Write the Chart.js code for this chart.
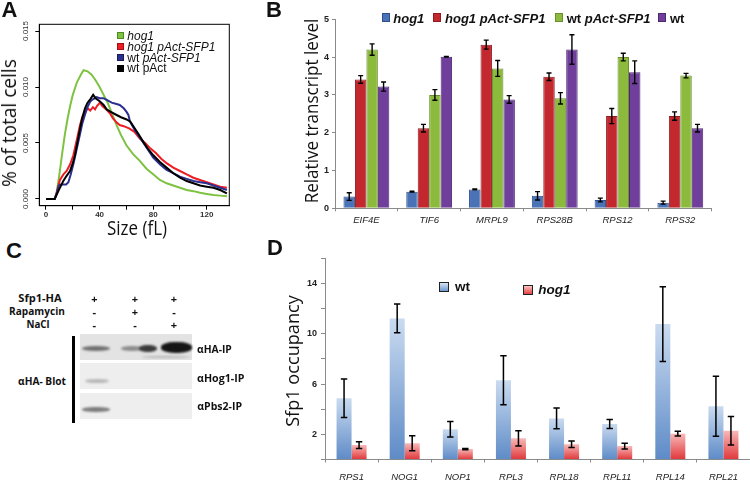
<!DOCTYPE html>
<html><head><meta charset="utf-8">
<script src="https://cdn.jsdelivr.net/npm/chart.js@4.4.0/dist/chart.umd.min.js"></script>
<style>
html,body{margin:0;padding:0;background:#fff;}
#root{position:relative;width:750px;height:480px;overflow:hidden;font-family:"Liberation Sans",Arial,sans-serif;color:#111;}
.t{position:absolute;white-space:nowrap;line-height:1;}
canvas{position:absolute;}
.sq{position:absolute;box-sizing:border-box;}
.blot{position:absolute;overflow:hidden;}
.band{position:absolute;border-radius:45%;}
</style></head>
<body><div id="root">
<canvas id="cA" width="245" height="235" style="left:0;top:0"></canvas>
<canvas id="cB" width="505" height="232" style="left:245px;top:0"></canvas>
<canvas id="cD" width="500" height="248" style="left:250px;top:232px"></canvas>
</div>
<script>
// ---------- Panel A data (cell size distributions) ----------
const aHog1X = [0,6.5,8,10,12,14,16,18,20,23,26,28,31,34,37,40,43,46,50,53,56,60,65,70,75,80,85,90,95,100,105,110,115,120,125,130,135];
const aHog1Y = [0,0,0.0006,0.0022,0.0040,0.0057,0.0071,0.0083,0.0093,0.0104,0.0111,0.0115,0.0114,0.0111,0.0106,0.0100,0.0093,0.0086,0.0074,0.0065,0.0057,0.0048,0.0040,0.0034,0.0027,0.0022,0.0017,0.0014,0.0012,0.0010,0.0008,0.0007,0.00055,0.00045,0.00035,0.0003,0.00025];
const aHogSfpX = [0,6.5,8,10.4,13,15.4,18,20.4,23,25.4,27,29,31,33,35,36.6,38,40.3,42,45,48,50,53,55,58,62,66,70,74,78,82,86,90,95,100,105,110,115,120,125,130,135];
const aHogSfpY = [0,0,0.0006,0.0017,0.0022,0.0025,0.0031,0.0039,0.0053,0.0066,0.0073,0.0078,0.0081,0.0079,0.0082,0.0080,0.0083,0.0086,0.0083,0.0080,0.0076,0.0072,0.0068,0.0066,0.0065,0.0063,0.0060,0.0054,0.0050,0.0045,0.0041,0.0036,0.0032,0.0028,0.0025,0.0022,0.0019,0.0017,0.0015,0.0013,0.0011,0.0010];
const aWtSfpX = [0,6.5,8,9.5,11,13,15,16.7,18.5,20.4,23,25.4,27,29,31,33,35,37.8,40,42.8,46,49,52,55,58,60,61.5,62.7,66,70,75,80,85,90,95,100,105,110,115,120,125,130,135];
const aWtSfpY = [0,0,0.0005,0.0012,0.0013,0.0013,0.0013,0.0015,0.0022,0.0031,0.0045,0.0058,0.0067,0.0075,0.0082,0.0087,0.0089,0.0091,0.0090,0.0090,0.0088,0.0086,0.0085,0.0084,0.0081,0.0078,0.0075,0.0069,0.0062,0.0055,0.0046,0.0037,0.0031,0.0026,0.0023,0.0020,0.0018,0.0016,0.0015,0.0014,0.0012,0.0010,0.0008];
const aWtX = [0,6.5,8,10,12.9,15,17.9,20,21.6,23.5,25.4,27,29.1,31,33,35.2,37,40.3,43,45.3,48,52.7,56,60.2,63,65.2,69,72.6,76,80.1,85,90,95,100,105,110,115,120,125,130,135];
const aWtY = [0,0,0.0004,0.0009,0.0016,0.0020,0.0025,0.0032,0.0039,0.0051,0.0063,0.0072,0.0081,0.0086,0.0089,0.0093,0.0090,0.0087,0.0084,0.0080,0.0078,0.0075,0.0073,0.0071,0.0069,0.0065,0.0058,0.0051,0.0045,0.0039,0.0033,0.0028,0.0023,0.0019,0.0016,0.0014,0.0012,0.0011,0.0010,0.0008,0.0005];
const aXTicks = [0,20,40,60,80,100,120];
const aXTickLabels = ['0','','40','','80','','120'];
const aYTicks = [0,0.005,0.010,0.015];
const aYTickLabels = ['0.000','0.005','0.010','0.015'];

// ---------- Panel B data (relative transcript level) ----------
const bGenes = ['EIF4E','TIF6','MRPL9','RPS28B','RPS12','RPS32'];
const bHog1 = [0.31,0.44,0.50,0.33,0.22,0.15];
const bHog1Err = [0.10,0.01,0.01,0.11,0.05,0.04];
const bHog1Sfp = [3.41,2.12,4.33,3.48,2.44,2.44];
const bHog1SfpErr = [0.10,0.10,0.12,0.10,0.20,0.11];
const bWtSfp = [4.20,3.00,3.70,2.91,4.00,3.51];
const bWtSfpErr = [0.15,0.14,0.21,0.15,0.10,0.06];
const bWt = [3.22,4.01,2.88,4.20,3.60,2.12];
const bWtErr = [0.12,0.01,0.10,0.39,0.30,0.10];

// ---------- Panel D data (Sfp1 occupancy) ----------
const dGenes = ['RPS1','NOG1','NOP1','RPL3','RPL18','RPL11','RPL14','RPL21'];
const dWt = [4.87,11.22,2.40,6.30,3.27,2.82,10.77,4.23];
const dWtErr = [1.53,1.14,0.62,1.95,0.82,0.36,2.97,2.39];
const dHog1 = [1.15,1.29,0.83,1.68,1.21,1.07,2.05,2.29];
const dHog1Err = [0.27,0.60,0.05,0.60,0.26,0.23,0.19,1.13];
const dYLabelled = [2,6,10,14];

Chart.defaults.font.family = '"Liberation Sans", Arial, sans-serif';
Chart.defaults.color = '#222';

const pts = (xs, ys) => xs.map((x, i) => ({x, y: ys[i]}));

const boxPlugin = {
  id: 'boxA',
  afterDraw(chart, args, opts) {
    if (!opts.on) return;
    const {ctx, chartArea: a} = chart;
    const ys = chart.scales.y;
    ctx.save();
    ctx.strokeStyle = '#000'; ctx.lineWidth = 1;
    ctx.strokeRect(a.left, a.top, a.right - a.left, a.bottom - a.top);
    ctx.fillStyle = '#333';
    ctx.font = '8px "Liberation Sans", Arial, sans-serif';
    ctx.textAlign = 'center'; ctx.textBaseline = 'middle';
    aYTicks.forEach((v, i) => {
      ctx.save();
      ctx.translate(opts.labelX, ys.getPixelForValue(v));
      ctx.rotate(-Math.PI / 2);
      ctx.fillText(aYTickLabels[i], 0, 0);
      ctx.restore();
    });
    ctx.restore();
  }
};

const errPlugin = {
  id: 'errbars',
  afterDatasetsDraw(chart, args, opts) {
    if (!opts.on) return;
    const ctx = chart.ctx, ys = chart.scales.y;
    chart.data.datasets.forEach((ds, i) => {
      const errs = opts.errs[i];
      if (!errs) return;
      const meta = chart.getDatasetMeta(i);
      meta.data.forEach((bar, j) => {
        const v = ds.data[j], e = errs[j];
        const x = bar.x;
        const y1 = ys.getPixelForValue(v + e), y2 = ys.getPixelForValue(v - e);
        ctx.save();
        ctx.strokeStyle = '#000'; ctx.lineWidth = opts.width;
        ctx.beginPath();
        ctx.moveTo(x, y1); ctx.lineTo(x, y2);
        ctx.moveTo(x - opts.cap, y1); ctx.lineTo(x + opts.cap, y1);
        ctx.moveTo(x - opts.cap, y2); ctx.lineTo(x + opts.cap, y2);
        ctx.stroke();
        ctx.restore();
      });
    });
  }
};

// ---------- Chart A ----------
new Chart(document.getElementById('cA'), {
  type: 'line',
  data: {datasets: [
    {label: 'hog1', data: pts(aHog1X, aHog1Y), borderColor: '#7ec242', order: 3},
    {label: 'hog1 pAct-SFP1', data: pts(aHogSfpX, aHogSfpY), borderColor: '#ee1d23', order: 2},
    {label: 'wt pAct-SFP1', data: pts(aWtSfpX, aWtSfpY), borderColor: '#2b2f8f', order: 1},
    {label: 'wt pAct', data: pts(aWtX, aWtY), borderColor: '#000000', order: 0}
  ]},
  options: {
    responsive: false, animation: false, events: [],
    datasets: {line: {borderWidth: 2, pointRadius: 0, tension: 0, fill: false}},
    layout: {padding: {left: 0, top: 24.3, right: 15.7, bottom: 0}},
    plugins: {legend: {display: false}, tooltip: {enabled: false}, boxA: {on: true, labelX: 26}},
    scales: {
      x: {type: 'linear', min: -5, max: 136.8,
        afterBuildTicks: s => { s.ticks = aXTicks.map(v => ({value: v})); },
        afterFit: s => { s.height = 29.3; },
        grid: {drawOnChartArea: false, drawTicks: true, tickLength: 4, color: '#000'},
        border: {color: '#000'},
        ticks: {callback: (v) => aXTickLabels[aXTicks.indexOf(v)] ?? '', font: {size: 8, weight: 'bold'}, color: '#333', padding: 0, maxRotation: 0, autoSkip: false}
      },
      y: {type: 'linear', min: -0.0006, max: 0.0156,
        afterBuildTicks: s => { s.ticks = aYTicks.map(v => ({value: v})); },
        afterFit: s => { s.width = 39.3; },
        grid: {drawOnChartArea: false, drawTicks: true, tickLength: 4, color: '#000'},
        border: {color: '#000'},
        ticks: {display: false}
      }
    }
  },
  plugins: [boxPlugin]
});

// ---------- Chart B ----------
new Chart(document.getElementById('cB'), {
  type: 'bar',
  data: {labels: bGenes, datasets: [
    {label: 'hog1', data: bHog1, backgroundColor: '#4a72b6', borderColor: '#2f5089'},
    {label: 'hog1 pAct-SFP1', data: bHog1Sfp, backgroundColor: '#c3282e', borderColor: '#8e1c20'},
    {label: 'wt pAct-SFP1', data: bWtSfp, backgroundColor: '#8cba3d', borderColor: '#6b8f2c'},
    {label: 'wt', data: bWt, backgroundColor: '#6f3f9b', borderColor: '#4b2870'}
  ]},
  options: {
    responsive: false, animation: false, events: [],
    datasets: {bar: {categoryPercentage: 0.73, barPercentage: 1.0, borderWidth: 1}},
    layout: {padding: {left: 0, top: 19.3, right: 38.3, bottom: 0}},
    plugins: {legend: {display: false}, tooltip: {enabled: false},
      errbars: {on: true, errs: [bHog1Err, bHog1SfpErr, bWtSfpErr, bWtErr], width: 1.4, cap: 2.5}},
    scales: {
      x: {type: 'category', offset: true,
        grid: {offset: true, drawOnChartArea: false, tickLength: 3, color: '#8a8a8a'},
        border: {color: '#8a8a8a'},
        ticks: {font: {size: 9.5, style: 'italic'}, color: '#222', padding: 3, maxRotation: 0, autoSkip: false},
        afterFit: s => { s.height = 23.7; }
      },
      y: {min: 0, max: 5,
        ticks: {stepSize: 1, font: {size: 9, weight: 'bold'}, color: '#222', padding: 3},
        grid: {drawOnChartArea: false, tickLength: 3, color: '#8a8a8a'},
        border: {color: '#8a8a8a'},
        afterFit: s => { s.width = 90; }
      }
    }
  },
  plugins: [errPlugin]
});

// ---------- Chart D ----------
function barGrad(top, bottom) {
  return (c) => {
    const chart = c.chart;
    if (c.type !== 'data' || !chart.chartArea) return bottom;
    const ys = chart.scales.y;
    const y0 = ys.getPixelForValue(c.raw), y1 = ys.getPixelForValue(0);
    const g = chart.ctx.createLinearGradient(0, y0, 0, y1);
    g.addColorStop(0, top); g.addColorStop(1, bottom);
    return g;
  };
}
new Chart(document.getElementById('cD'), {
  type: 'bar',
  data: {labels: dGenes, datasets: [
    {label: 'wt', data: dWt, backgroundColor: barGrad('#cadbf0', '#5e8bc7')},
    {label: 'hog1', data: dHog1, backgroundColor: barGrad('#f8b9b9', '#e0373a')}
  ]},
  options: {
    responsive: false, animation: false, events: [],
    datasets: {bar: {categoryPercentage: 0.565, barPercentage: 1.0, borderWidth: 0}},
    layout: {padding: {left: 0, top: 26.3, right: 0, bottom: 0}},
    plugins: {legend: {display: false}, tooltip: {enabled: false},
      errbars: {on: true, errs: [dWtErr, dHog1Err], width: 1.5, cap: 3.2}},
    scales: {
      x: {type: 'category', offset: true,
        grid: {offset: true, drawOnChartArea: false, tickLength: 3, color: '#8a8a8a'},
        border: {color: '#8a8a8a'},
        ticks: {font: {size: 9.5, style: 'italic'}, color: '#222', padding: 9, maxRotation: 0, autoSkip: false},
        afterFit: s => { s.height = 20.5; }
      },
      y: {min: 0, max: 16,
        ticks: {stepSize: 2, callback: v => dYLabelled.includes(v) ? String(v) : '', font: {size: 9, weight: 'bold'}, color: '#222', padding: 4},
        grid: {drawOnChartArea: false, tickLength: 4, color: '#8a8a8a'},
        border: {color: '#8a8a8a'},
        afterFit: s => { s.width = 75; }
      }
    }
  },
  plugins: [errPlugin]
});

// ---------- HTML text & decorations ----------
const root = document.getElementById('root');
function T(html, x, y, o = {}) {
  const d = document.createElement('div');
  d.className = 't'; d.innerHTML = html;
  d.style.left = x + 'px'; d.style.top = y + 'px';
  d.style.fontSize = (o.size || 12) + 'px';
  if (o.bold) d.style.fontWeight = 'bold';
  if (o.italic) d.style.fontStyle = 'italic';
  if (o.family) d.style.fontFamily = o.family;
  if (o.color) d.style.color = o.color;
  root.appendChild(d);
  const left = o.align === 'left';
  d.style.transformOrigin = left ? '0 50%' : '50% 50%';
  let tr = `translate(${left ? '0' : '-50%'},-50%)`;
  if (o.rot) tr += ' rotate(-90deg)';
  if (o.fit) tr += ` scaleX(${o.fit / d.offsetWidth})`;
  d.style.transform = tr;
  return d;
}
function SQ(x, y, w, h, bg, border) {
  const s = document.createElement('div');
  s.className = 'sq';
  Object.assign(s.style, {left: x + 'px', top: y + 'px', width: w + 'px', height: h + 'px', background: bg, border: '1px solid ' + border});
  root.appendChild(s);
}
const OS = '"Open Sans", "Liberation Sans", sans-serif';

// panel letters
T('A', 9.5, 10, {size: 22, bold: true});
T('B', 274, 10, {size: 22, bold: true});
T('C', 14, 250.5, {size: 22, bold: true});
T('D', 275, 247.5, {size: 22, bold: true});

// Panel A texts
T('% of total cells', 8.5, 122.5, {size: 20, family: OS, rot: true, fit: 128});
T('Size (fL)', 136.5, 228, {size: 19.5, family: OS, fit: 60});
const aLeg = [['#7ec242', '#4d8a22', '<i>hog1</i>', 35.7], ['#ee1d23', '#a01015', '<i>hog1 pAct-SFP1</i>', 46.7], ['#2b2f8f', '#1a1c5a', 'wt <i>pAct-SFP1</i>', 57.7], ['#000', '#000', 'wt pAct', 68.3]];
aLeg.forEach(([c, b, txt, y]) => { SQ(116.7, y - 3.5, 7, 7, c, b); T(txt, 127.3, y, {size: 12, align: 'left'}); });

// Panel B texts
T('Relative transcript level', 310.5, 110.5, {size: 19, family: OS, rot: true, fit: 185});
SQ(381.5, 12.5, 8, 9, '#4a72b6', '#2f5089'); T('<i>hog1</i>', 393.3, 17.5, {size: 13, bold: true, align: 'left'});
SQ(432.7, 12.5, 8, 9, '#c3282e', '#8e1c20'); T('<i>hog1 pAct-SFP1</i>', 445, 17.5, {size: 13, bold: true, align: 'left'});
SQ(555, 12.5, 8, 9, '#8cba3d', '#6b8f2c'); T('wt <i>pAct-SFP1</i>', 566.7, 17.5, {size: 13, bold: true, align: 'left'});
SQ(658.3, 12.5, 8, 9, '#6f3f9b', '#4b2870'); T('wt', 670, 17.5, {size: 13, bold: true, align: 'left'});

// Panel D texts
T('Sfp1 occupancy', 291.5, 361, {size: 18, family: OS, rot: true, fit: 132});
SQ(439.3, 281.7, 10, 10, 'linear-gradient(#d6e3f4,#6d97cd)', '#222'); T('wt', 455, 286.7, {size: 13.5, bold: true, align: 'left'});
SQ(522.7, 285, 10, 10, 'linear-gradient(#fbc4c4,#e2403f)', '#222'); T('<i>hog1</i>', 538.3, 290, {size: 13.5, bold: true, align: 'left'});

// Panel C: immunoblot
const CB = {size: 10.5, bold: true, family: OS};
T('Sfp1-HA', 40, 297.7, Object.assign({fit: 43.3}, CB));
T('Rapamycin', 37.2, 311, Object.assign({fit: 55.7}, CB));
T('NaCl', 37.7, 324.3, Object.assign({fit: 23.3}, CB));
const lanesX = [94.3, 135, 174];
const rowsY = [297.7, 311, 324.3];
const signs = [['+', '+', '+'], ['-', '+', '-'], ['-', '-', '+']];
signs.forEach((row, r) => row.forEach((s, l) => T(s, lanesX[l], rowsY[r], {size: 11, bold: true, family: OS})));
T('αHA- Blot', 41.5, 381, Object.assign({fit: 48.3}, CB));
T('αHA-IP', 197.3, 349, Object.assign({fit: 35.3, align: 'left'}, CB));
T('αHog1-IP', 197.3, 377.7, Object.assign({fit: 47.7, align: 'left'}, CB));
T('αPbs2-IP', 197.3, 406, Object.assign({fit: 45, align: 'left'}, CB));

function box(x, y, w, h, bg, extra) {
  const d = document.createElement('div');
  d.className = 'blot';
  Object.assign(d.style, {left: x + 'px', top: y + 'px', width: w + 'px', height: h + 'px', background: bg}, extra || {});
  root.appendChild(d);
  return d;
}
function band(x, y, w, h, col, blur) {
  const d = document.createElement('div');
  d.className = 'band';
  Object.assign(d.style, {left: x + 'px', top: y + 'px', width: w + 'px', height: h + 'px', background: col, filter: `blur(${blur}px)`});
  root.appendChild(d);
}
box(80, 334.3, 112, 26, '#e3e3e3');
box(80, 363.3, 112, 26, '#eeeeee');
box(80, 393.3, 112, 26, '#eeeeee');
box(72, 336, 2.5, 87, '#000');
band(82, 345.5, 28, 5.5, '#707070', 1.1);
band(121, 346, 22, 5, '#8c8c8c', 1.1);
band(139, 344.5, 18, 7, '#3a3a3a', 1.1);
band(160.5, 342, 31, 10.5, '#151515', 1.3);
band(142, 355.5, 48, 2.5, '#b8b8b8', 0.8);
band(84.5, 378.5, 24, 4.5, '#b8b8b8', 1.0);
band(82, 406.5, 28, 5, '#7c7c7c', 1.0);
</script>
</body></html>
